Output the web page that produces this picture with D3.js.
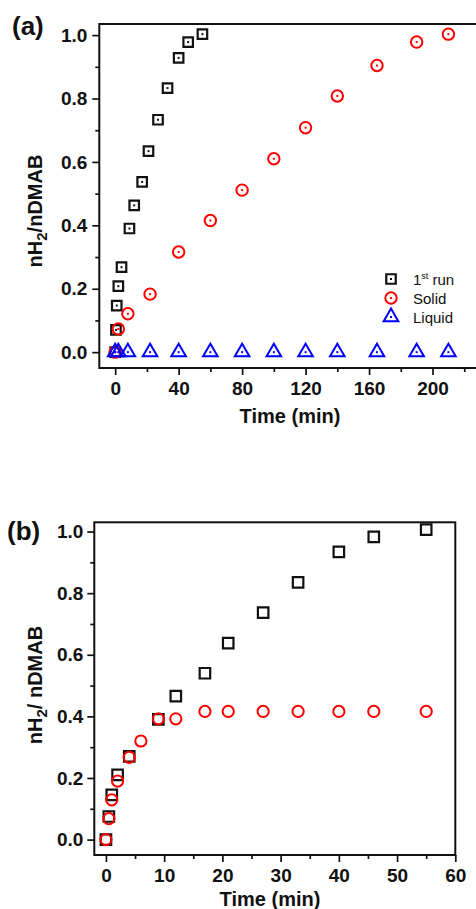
<!DOCTYPE html>
<html>
<head>
<meta charset="utf-8">
<script src="https://cdn.jsdelivr.net/npm/d3@7"></script>
<style>
  body { margin: 0; background: #fff; }
  svg { display: block; }
  text { font-family: "Liberation Sans", Arial, sans-serif; }
</style>
</head>
<body>
<svg width="476" height="909"></svg>
<script>
// panel (a): H2 evolution, time in min
var aRunTime = [0, 0.5, 1, 2, 4, 9, 12, 17, 21, 27, 33, 40, 46, 55];
var aRunY = [0, 0.07, 0.147, 0.208, 0.268, 0.39, 0.463, 0.537, 0.634, 0.733, 0.833, 0.928, 0.978, 1.003];
var aSolidTime = [0, 2, 8, 22, 40, 60, 80, 100, 120, 140, 165, 190, 210];
var aSolidY = [0, 0.073, 0.121, 0.183, 0.316, 0.415, 0.511, 0.61, 0.708, 0.808, 0.904, 0.978, 1.003];
var aLiquidTime = [0, 2, 8, 22, 40, 60, 80, 100, 120, 140, 165, 190, 210];
var aLiquidY = [0, 0, 0, 0, 0, 0, 0, 0, 0, 0, 0, 0, 0];

// panel (b)
var bRunTime = [0, 0.5, 1, 2, 4, 9, 12, 17, 21, 27, 33, 40, 46, 55];
var bRunY = [0, 0.075, 0.145, 0.21, 0.27, 0.39, 0.466, 0.54, 0.638, 0.737, 0.835, 0.934, 0.983, 1.006];
var bCircTime = [0, 0.5, 1, 2, 4, 6, 9, 12, 17, 21, 27, 33, 40, 46, 55];
var bCircY = [0, 0.068, 0.129, 0.19, 0.267, 0.32, 0.392, 0.392, 0.416, 0.416, 0.416, 0.416, 0.416, 0.416, 0.416];

var legendNames = ["run", "Solid", "Liquid"];
var yTicks = [0, 0.2, 0.4, 0.6, 0.8, 1.0];
var yMinor = [0.1, 0.3, 0.5, 0.7, 0.9];
var aXTicks = [0, 40, 80, 120, 160, 200];
var aXMinor = [20, 60, 100, 140, 180, 220];
var bXTicks = [0, 10, 20, 30, 40, 50, 60];
var bXMinor = [5, 15, 25, 35, 45, 55];

var svg = d3.select("svg");

function zip(xs, ys) {
    return xs.map(function (t, i) { return {t: t, v: ys[i]}; });
}

function drawPanel(p) {
    var x = d3.scaleLinear().domain(p.xDomain).range([p.left, p.right]);
    var y = d3.scaleLinear().domain(p.yDomain).range([p.bottom, p.top]);
    var g = svg.append("g");

    // minor ticks first, then majors with labels
    g.append("g")
        .attr("transform", "translate(0," + p.bottom + ")")
        .call(d3.axisBottom(x).tickValues(p.xMinor).tickSize(4).tickFormat(""));
    g.append("g")
        .attr("transform", "translate(" + p.left + ",0)")
        .call(d3.axisLeft(y).tickValues(yMinor).tickSize(4).tickFormat(""));

    g.append("g")
        .attr("transform", "translate(0," + p.bottom + ")")
        .call(d3.axisBottom(x).tickValues(p.xTicks).tickSize(7).tickPadding(p.xPad).tickFormat(d3.format("d")));
    g.append("g")
        .attr("transform", "translate(" + p.left + ",0)")
        .call(d3.axisLeft(y).tickValues(yTicks).tickSize(7).tickPadding(p.yPad).tickFormat(d3.format(".1f")));

    g.selectAll(".domain").remove();
    g.selectAll(".tick line").attr("stroke", "#111").attr("stroke-width", 1.7);
    g.selectAll(".tick text")
        .attr("fill", "#111")
        .style("font-family", "'Liberation Sans', Arial, sans-serif")
        .style("font-weight", "bold")
        .style("font-size", "19px");

    // frame
    g.append("rect")
        .attr("x", p.left).attr("y", p.top)
        .attr("width", p.right - p.left).attr("height", p.bottom - p.top)
        .attr("fill", "none").attr("stroke", "#111").attr("stroke-width", 2);

    // axis titles
    g.append("text")
        .attr("x", p.xTitleX).attr("y", p.xTitleY)
        .attr("text-anchor", "middle")
        .style("font-weight", "bold").style("font-size", "20px")
        .attr("fill", "#111")
        .text("Time (min)");

    var yt = g.append("text")
        .attr("transform", "translate(" + p.yTitleX + "," + p.yTitleY + ") rotate(-90)")
        .attr("text-anchor", "middle")
        .style("font-weight", "bold").style("font-size", "20px")
        .attr("fill", "#111");
    yt.append("tspan").text("nH");
    yt.append("tspan").attr("dy", 5).style("font-size", "15px").text("2");
    yt.append("tspan").attr("dy", -5).text(p.yTitleRest);

    g.append("text")
        .attr("x", p.tagX).attr("y", p.tagY)
        .style("font-weight", "bold").style("font-size", "26px")
        .attr("fill", "#111")
        .text(p.tag);

    return {g: g, x: x, y: y};
}

function squares(panel, data, side, width, dot) {
    var pts = panel.g.append("g").selectAll("g")
        .data(data)
        .enter().append("g")
        .attr("transform", function (d) {
            return "translate(" + panel.x(d.t) + "," + panel.y(d.v) + ")";
        });
    pts.append("path")
        .attr("d", d3.symbol().type(d3.symbolSquare).size(side * side))
        .attr("fill", "none").attr("stroke", "#111").attr("stroke-width", width);
    if (dot) pts.append("rect").attr("x", -1).attr("y", -1).attr("width", 2).attr("height", 2).attr("fill", "#111");
}

function circles(panel, data, r, dot) {
    var pts = panel.g.append("g").selectAll("g")
        .data(data)
        .enter().append("g")
        .attr("transform", function (d) {
            return "translate(" + panel.x(d.t) + "," + panel.y(d.v) + ")";
        });
    pts.append("circle").attr("r", r)
        .attr("fill", "none").attr("stroke", "#ff0000").attr("stroke-width", 2);
    if (dot) pts.append("rect").attr("x", -1).attr("y", -1).attr("width", 2).attr("height", 2).attr("fill", "#ff0000");
}

function triangles(panel, data) {
    var pts = panel.g.append("g").selectAll("g")
        .data(data)
        .enter().append("g")
        .attr("transform", function (d) {
            return "translate(" + panel.x(d.t) + "," + panel.y(d.v) + ")";
        });
    pts.append("path")
        .attr("d", d3.symbol().type(d3.symbolTriangle).size(92))
        .attr("fill", "none").attr("stroke", "#0000ff").attr("stroke-width", 2);
    pts.append("rect").attr("x", -1).attr("y", -1).attr("width", 2).attr("height", 2).attr("fill", "#0000ff");
}

// ---- panel (a) ----
var pa = drawPanel({
    left: 99.3, right: 496, top: 24, bottom: 368,
    xDomain: [-10, 240], yDomain: [-0.05, 1.035],
    xTicks: aXTicks, xMinor: aXMinor, xPad: 7, yPad: 5,
    xTitleX: 290, xTitleY: 423, yTitleX: 42, yTitleY: 211, yTitleRest: "/nDMAB",
    tag: "(a)", tagX: 12, tagY: 35
});
squares(pa, zip(aRunTime, aRunY), 9.5, 2.2, true);
circles(pa, zip(aSolidTime, aSolidY), 5.7, true);
triangles(pa, zip(aLiquidTime, aLiquidY));

// legend for (a)
var leg = pa.g.append("g");
var legY = [279, 298, 317];
squares({g: leg, x: function () { return 391; }, y: function () { return legY[0]; }}, [{t: 0, v: 0}], 9.5, 2.2, true);
circles({g: leg, x: function () { return 391; }, y: function () { return legY[1]; }}, [{t: 0, v: 0}], 5.7, true);
triangles({g: leg, x: function () { return 391; }, y: function () { return legY[2]; }}, [{t: 0, v: 0}]);
var t1 = leg.append("text").attr("x", 413).attr("y", legY[0] + 5.5)
    .style("font-size", "15px").attr("fill", "#111");
t1.append("tspan").text("1");
t1.append("tspan").attr("dy", -6).style("font-size", "9px").text("st");
t1.append("tspan").attr("dy", 6).text(" " + legendNames[0]);
leg.selectAll(".lab")
    .data(legendNames.slice(1))
    .enter().append("text")
    .attr("x", 413)
    .attr("y", function (d, i) { return legY[i + 1] + 5.5; })
    .style("font-size", "15px").attr("fill", "#111")
    .text(function (d) { return d; });

// ---- panel (b) ----
var pb = drawPanel({
    left: 94.3, right: 455.3, top: 522.3, bottom: 855,
    xDomain: [-2, 60], yDomain: [-0.05, 1.03],
    xTicks: bXTicks, xMinor: bXMinor, xPad: 7, yPad: 4,
    xTitleX: 270, xTitleY: 906, yTitleX: 42, yTitleY: 685, yTitleRest: "/ nDMAB",
    tag: "(b)", tagX: 7, tagY: 540
});
squares(pb, zip(bRunTime, bRunY), 10.5, 2.2, false);
circles(pb, zip(bCircTime, bCircY), 5.6, false);
</script>
</body>
</html>
